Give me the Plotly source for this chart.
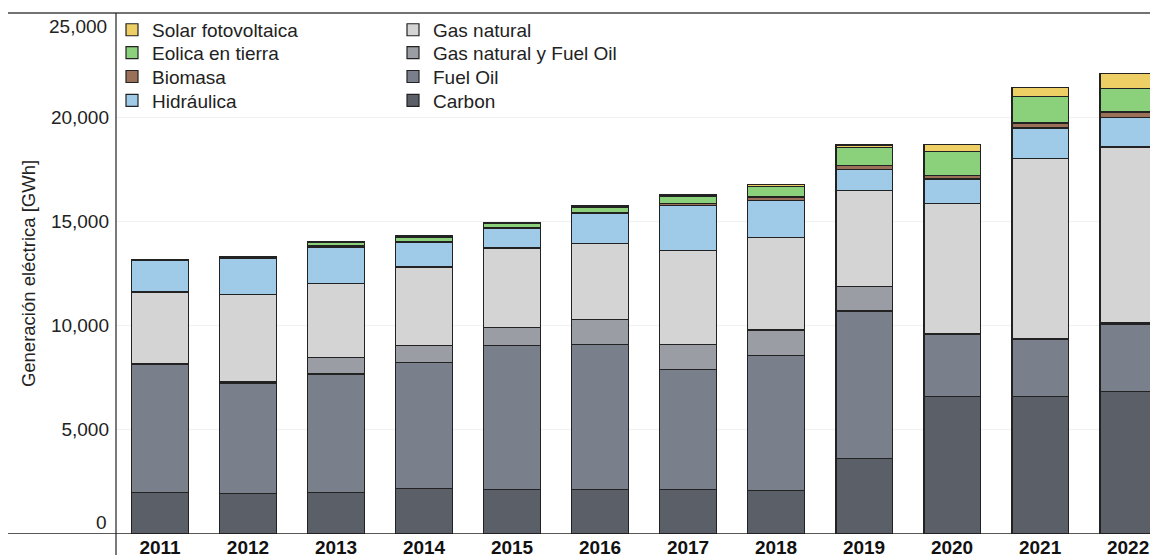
import plotly.graph_objects as go

years = ["2011", "2012", "2013", "2014", "2015", "2016", "2017", "2018", "2019", "2020", "2021", "2022"]

carbon = [2010, 1960, 2010, 2200, 2140, 2140, 2140, 2090, 3620, 6580, 6580, 6820]
fuel_oil = [6110, 5290, 5665, 6035, 6905, 6955, 5760, 6480, 7080, 3000, 2750, 3260]
gas_fuel = [50, 50, 800, 810, 860, 1205, 1195, 1220, 1195, 50, 50, 50]
gas_natural = [3440, 4200, 3530, 3770, 3820, 3645, 4500, 4440, 4570, 6210, 8620, 8440]
hidraulica = [1500, 1710, 1765, 1160, 920, 1430, 2165, 1770, 1015, 1195, 1480, 1435]
biomasa = [30, 60, 60, 60, 80, 70, 110, 170, 220, 180, 240, 240]
eolica = [20, 50, 150, 190, 170, 250, 350, 510, 830, 1130, 1260, 1130]
solar = [0, 0, 40, 70, 70, 80, 60, 80, 140, 350, 440, 730]

y_ticks = [5000, 10000, 15000, 20000]
y_tick_text = ["5,000", "10,000", "15,000", "20,000"]
y_end_vals = [0, 25000]
y_end_text = ["0", "25,000"]

FONT = "Liberation Sans, Arial, sans-serif"
TXT = "#222222"

# name, values, colour, legend row, position in row
series = [
    ("Carbon", carbon, "#5b5f68", "legend4", 2),
    ("Fuel Oil", fuel_oil, "#7a7f8c", "legend3", 2),
    ("Gas natural y Fuel Oil", gas_fuel, "#9a9da4", "legend2", 2),
    ("Gas natural", gas_natural, "#d4d4d4", "legend", 2),
    ("Hidráulica", hidraulica, "#9fcbe8", "legend4", 1),
    ("Biomasa", biomasa, "#9a7058", "legend3", 1),
    ("Eolica en tierra", eolica, "#8bd17c", "legend2", 1),
    ("Solar fotovoltaica", solar, "#eecf66", "legend", 1),
]

W, H = 1150, 550
ML, MT, MB = 108, 5, 21
PH = H - MT - MB
PW = W - ML


def paper_y(py):
    return (H - MB - py) / PH


fig = go.Figure()
for name, vals, color, leg, rank in series:
    fig.add_trace(go.Bar(
        x=years, y=vals, name=name,
        marker=dict(color=color, line=dict(color="#222222", width=1.2)),
        legend=leg, legendrank=rank,
    ))

row_centers = [22, 45, 69, 93]
legends = {}
for i, key in enumerate(["legend", "legend2", "legend3", "legend4"]):
    legends[key] = dict(
        x=-4 / PW, y=paper_y(row_centers[i]), xanchor="left", yanchor="middle",
        orientation="h", traceorder="normal", entrywidth=236, entrywidthmode="pixels",
        bgcolor="rgba(0,0,0,0)", font=dict(family=FONT, size=19, color=TXT),
    )

fig.update_layout(
    width=W, height=H,
    margin=dict(l=ML, r=0, t=MT, b=MB),
    plot_bgcolor="white", paper_bgcolor="white",
    barmode="stack", bargap=0.36,
    font=dict(family=FONT, size=19, color=TXT),
    **legends,
)

fig.update_xaxes(
    type="category", range=[-0.5, 11.34],
    showline=False, showgrid=False, zeroline=False,
    tickfont=dict(family=FONT, size=19, color="#111111", weight="bold"),
)
fig.update_yaxes(
    range=[0, 25000], tickvals=y_ticks, ticktext=y_tick_text,
    showgrid=True, gridcolor="#f1f1f1", gridwidth=1, zeroline=False,
    showline=False, ticklabelstandoff=6,
    tickfont=dict(family=FONT, size=19, color=TXT),
    title=dict(text="Generación eléctrica [GWh]", font=dict(family=FONT, size=18.5, color=TXT), standoff=10),
)

for v, t in zip(y_end_vals, y_end_text):
    fig.add_annotation(x=0, xref="paper", y=v, yref="y", text=t, showarrow=False,
                       xanchor="right", yanchor="middle", xshift=-7,
                       yshift=12 if v == 0 else -13,
                       font=dict(family=FONT, size=19, color=TXT))

x_left = -ML / PW
fig.add_shape(type="line", xref="paper", yref="paper", x0=x_left, x1=1, y0=1, y1=1,
              line=dict(color="#444444", width=1.5))
fig.add_shape(type="line", xref="paper", yref="y", x0=x_left, x1=1, y0=0, y1=0,
              line=dict(color="#222222", width=1.5))
fig.add_shape(type="line", xref="paper", yref="paper", x0=0, x1=0, y0=-MB / PH, y1=1,
              line=dict(color="#222222", width=1.2))

fig.write_html("out.html")
